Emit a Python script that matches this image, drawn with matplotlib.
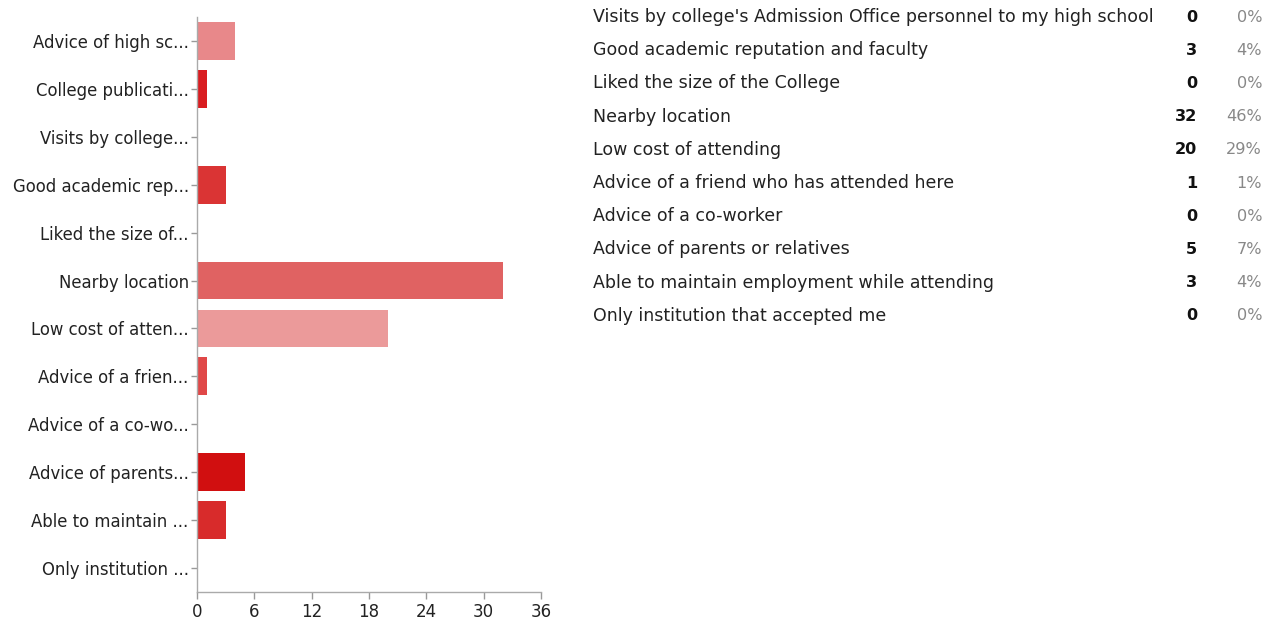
import numpy as np
import matplotlib
matplotlib.use("Agg")
import matplotlib.pyplot as plt
from matplotlib import rcParams

rcParams['font.family'] = ['DejaVu Sans']

# bar chart data (top to bottom)
bar_labels = ["Advice of high sc...", "College publicati...", "Visits by college...",
              "Good academic rep...", "Liked the size of...", "Nearby location",
              "Low cost of atten...", "Advice of a frien...", "Advice of a co-wo...",
              "Advice of parents...", "Able to maintain ...", "Only institution ..."]
bar_values = [4, 1, 0, 3, 0, 32, 20, 1, 0, 5, 3, 0]
bar_colors = ['#e8888a', '#d91c20', '#dd3a3a', '#da3434', '#dd3a3a', '#e06262',
              '#eb9a9a', '#e04848', '#dd3a3a', '#d10f10', '#d82b2b', '#dd3a3a']
x_ticks = [0, 6, 12, 18, 24, 30, 36]

# summary table data
table_labels = ["Visits by college's Admission Office personnel to my high school",
                "Good academic reputation and faculty",
                "Liked the size of the College",
                "Nearby location",
                "Low cost of attending",
                "Advice of a friend who has attended here",
                "Advice of a co-worker",
                "Advice of parents or relatives",
                "Able to maintain employment while attending",
                "Only institution that accepted me"]
table_counts = [0, 3, 0, 32, 20, 1, 0, 5, 3, 0]
table_pcts = ["0%", "4%", "0%", "46%", "29%", "1%", "0%", "7%", "4%", "0%"]

W, H = 1275, 619
fig = plt.figure(figsize=(W / 100, H / 100), dpi=100)
ax = fig.add_axes([197 / W, 1 - 592 / H, 344 / W, 575 / H])

y = np.arange(len(bar_values))
ax.barh(y, bar_values, height=0.79, color=bar_colors)
ax.set_ylim(len(bar_values) - 0.5, -0.5)
ax.set_xlim(0, 36)
ax.set_xticks(x_ticks)
ax.set_yticks(y)
ax.set_yticklabels(bar_labels, fontsize=11.9, color='#222222')
ax.tick_params(axis='x', labelsize=12, colors='#999999', labelcolor='#222222', length=5, width=1, pad=3)
ax.tick_params(axis='y', colors='#999999', labelcolor='#222222', length=4, width=1, pad=2)
for s in ['top', 'right']:
    ax.spines[s].set_visible(False)
for s in ['left', 'bottom']:
    ax.spines[s].set_color('#aaaaaa')
    ax.spines[s].set_linewidth(1)

row0 = 17
step = 33.2
for i, (lab, cnt, pct) in enumerate(zip(table_labels, table_counts, table_pcts)):
    yy = 1 - (row0 + i * step) / H
    fig.text(593 / W, yy, lab, fontsize=12.5, color='#222222', va='center', ha='left')
    fig.text(1197 / W, yy, str(cnt), fontsize=11.6, color='#111111', fontweight='bold',
             va='center', ha='right')
    fig.text(1262 / W, yy, pct, fontsize=11.6, color='#888888', va='center', ha='right')

fig.savefig("out.png", dpi=100)
